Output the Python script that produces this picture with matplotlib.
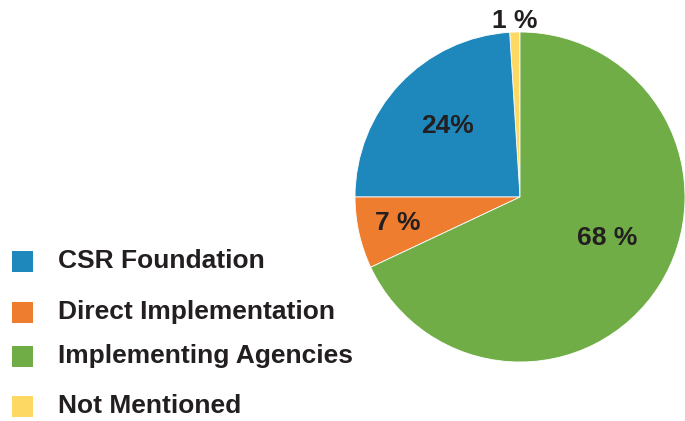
import matplotlib

matplotlib.use("Agg")
import matplotlib.pyplot as plt
from matplotlib.patches import Rectangle

plt.rcParams["font.family"] = ["Liberation Sans", "DejaVu Sans"]

# slices in counterclockwise order starting at 12 o'clock
categories = ["Not Mentioned", "CSR Foundation", "Direct Implementation", "Implementing Agencies"]
shares = [1, 24, 7, 68]
pct_labels = ["1 %", "24%", "7 %", "68 %"]
colors = ["#fdd862", "#1e88bd", "#ef7d30", "#70ad47"]

legend_order = ["CSR Foundation", "Direct Implementation", "Implementing Agencies", "Not Mentioned"]

TEXT = "#231f20"
W, H = 685, 421

fig = plt.figure(figsize=(W / 100, H / 100), dpi=100)

# pie: centre (520, 197) px, radius 165 px
cx, cy, r = 520, 197, 165
ax = fig.add_axes([(cx - r) / W, (H - cy - r) / H, 2 * r / W, 2 * r / H])
ax.pie(shares, colors=colors, startangle=90, counterclock=True, radius=1,
       wedgeprops=dict(linewidth=0.6, edgecolor="white"))
ax.set_xlim(-1, 1)
ax.set_ylim(-1, 1)
ax.set_aspect("equal")
ax.axis("off")

# label positions in pie units
label_pos = [(-0.03, 1.065), (-0.44, 0.43), (-0.74, -0.16), (0.53, -0.25)]
for txt, (x, y) in zip(pct_labels, label_pos):
    ax.text(x, y, txt, ha="center", va="center", fontsize=19, fontweight="bold",
            color=TEXT, clip_on=False)

# legend on the left, drawn by hand (rows are unevenly spaced in the original)
row_y = [261, 312, 356, 406]
color_of = dict(zip(categories, colors))
for name, y in zip(legend_order, row_y):
    fig.patches.append(Rectangle((12 / W, (H - y - 10.5) / H), 21 / W, 21 / H,
                                 transform=fig.transFigure, facecolor=color_of[name],
                                 edgecolor="none"))
    fig.text(58 / W, (H - y) / H, name, ha="left", va="center", fontsize=19,
             fontweight="bold", color=TEXT)

fig.savefig("out.png", dpi=100)
